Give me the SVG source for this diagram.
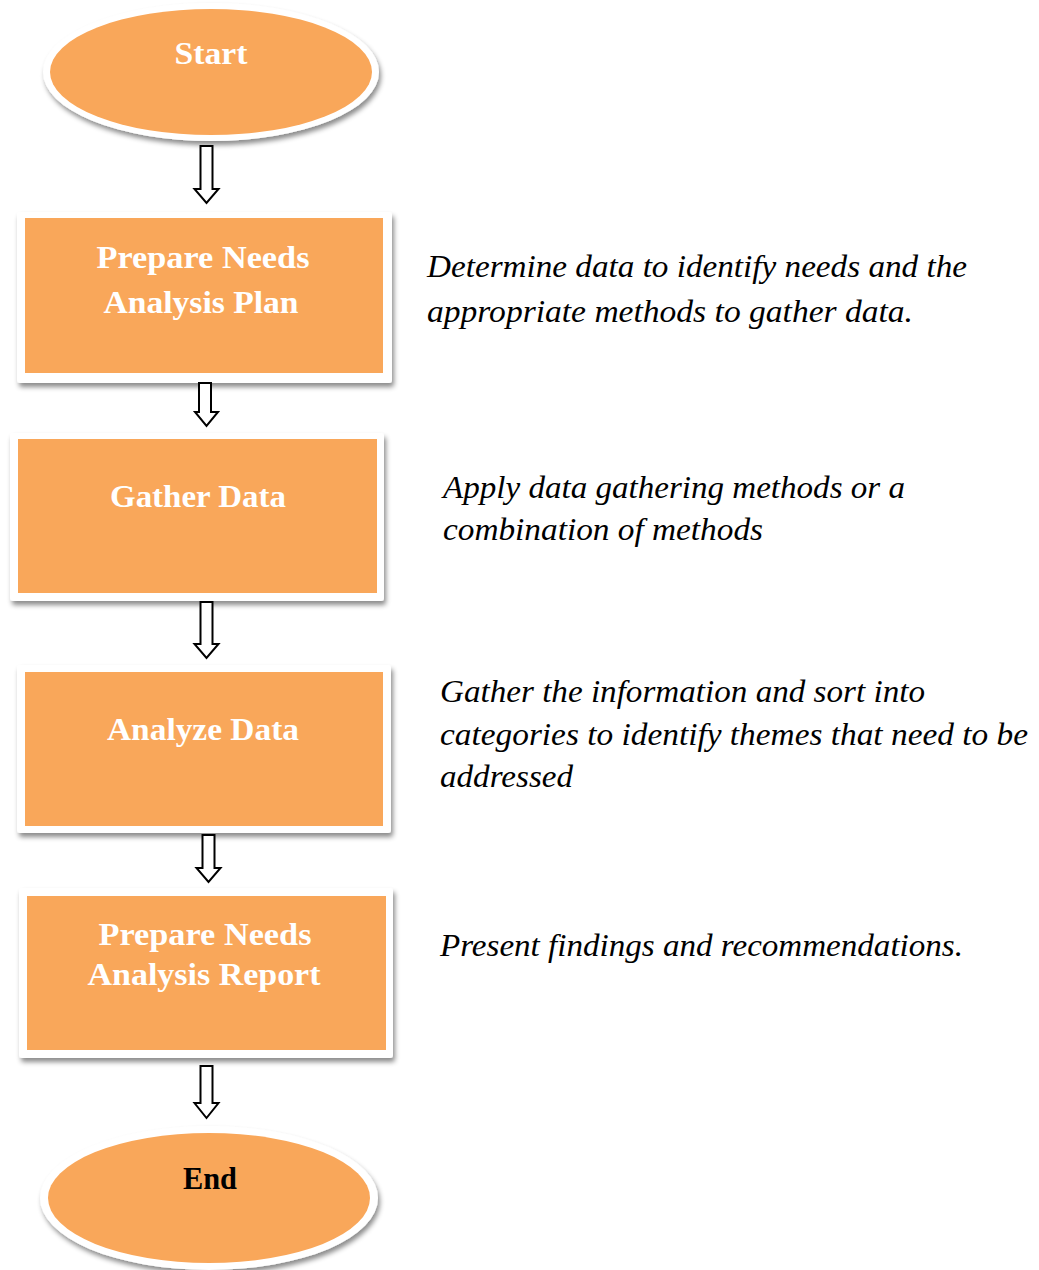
<svg xmlns="http://www.w3.org/2000/svg" width="1039" height="1270" viewBox="0 0 1039 1270">
  <defs>
    <filter id="shadow" x="-10%" y="-10%" width="125%" height="130%">
      <feDropShadow dx="2" dy="4" stdDeviation="2.5" flood-color="#000" flood-opacity="0.45"/>
    </filter>
  </defs>
  <style>
    .frame { fill: #ffffff; filter: url(#shadow); }
    .fill { fill: #F9A75A; }
    .label { font-family: "Liberation Serif", "DejaVu Serif", serif; font-weight: bold; font-size: 32px; fill: #ffffff; text-anchor: middle; }
    .label-dark { fill: #000000; }
    .desc { font-family: "Liberation Serif", "DejaVu Serif", serif; font-style: italic; font-size: 31px; fill: #000000; }
    .arrow { fill: #ffffff; stroke: #000000; stroke-width: 2; stroke-linejoin: miter; }
  </style>

  <!-- Start terminal -->
  <g id="start">
    <ellipse class="frame" cx="211" cy="72" rx="168" ry="69"/>
    <ellipse class="fill" cx="211" cy="72" rx="161" ry="63"/>
    <text class="label" x="211" y="64" textLength="73" lengthAdjust="spacingAndGlyphs">Start</text>
  </g>

  <!-- Step 1 -->
  <g id="plan">
    <rect class="frame" x="17" y="212" width="375" height="171" rx="3"/>
    <rect class="fill" x="25" y="218" width="358" height="155"/>
    <text class="label" x="203" y="268" textLength="213" lengthAdjust="spacingAndGlyphs">Prepare Needs</text>
    <text class="label" x="201" y="313" textLength="195" lengthAdjust="spacingAndGlyphs">Analysis Plan</text>
  </g>

  <!-- Step 2 -->
  <g id="gather">
    <rect class="frame" x="10" y="433" width="374" height="168" rx="3"/>
    <rect class="fill" x="18" y="439" width="359" height="154"/>
    <text class="label" x="198" y="507" textLength="176" lengthAdjust="spacingAndGlyphs">Gather Data</text>
  </g>

  <!-- Step 3 -->
  <g id="analyze">
    <rect class="frame" x="17" y="665" width="374" height="168" rx="3"/>
    <rect class="fill" x="25" y="672" width="358" height="154"/>
    <text class="label" x="203" y="740" textLength="192" lengthAdjust="spacingAndGlyphs">Analyze Data</text>
  </g>

  <!-- Step 4 -->
  <g id="report">
    <rect class="frame" x="19" y="888" width="374" height="170" rx="3"/>
    <rect class="fill" x="27" y="896" width="359" height="154"/>
    <text class="label" x="205" y="945" textLength="213" lengthAdjust="spacingAndGlyphs">Prepare Needs</text>
    <text class="label" x="204" y="985" textLength="233" lengthAdjust="spacingAndGlyphs">Analysis Report</text>
  </g>

  <!-- End terminal -->
  <g id="end">
    <ellipse class="frame" cx="209" cy="1198" rx="169" ry="72"/>
    <ellipse class="fill" cx="209" cy="1198" rx="161" ry="65"/>
    <text class="label label-dark" x="210" y="1189" textLength="54" lengthAdjust="spacingAndGlyphs">End</text>
  </g>

  <!-- Step descriptions -->
  <g id="notes">
    <text class="desc" x="427" y="277" textLength="540" lengthAdjust="spacingAndGlyphs">Determine data to identify needs and the</text>
    <text class="desc" x="427" y="322" textLength="486" lengthAdjust="spacingAndGlyphs">appropriate methods to gather data.</text>
    <text class="desc" x="443" y="498" textLength="462" lengthAdjust="spacingAndGlyphs">Apply data gathering methods or a</text>
    <text class="desc" x="443" y="540" textLength="320" lengthAdjust="spacingAndGlyphs">combination of methods</text>
    <text class="desc" x="440" y="702" textLength="485" lengthAdjust="spacingAndGlyphs">Gather the information and sort into</text>
    <text class="desc" x="440" y="745" textLength="588" lengthAdjust="spacingAndGlyphs">categories to identify themes that need to be</text>
    <text class="desc" x="440" y="787" textLength="133" lengthAdjust="spacingAndGlyphs">addressed</text>
    <text class="desc" x="440" y="956" textLength="523" lengthAdjust="spacingAndGlyphs">Present findings and recommendations.</text>
  </g>

  <!-- Hollow block arrows between steps -->
  <g id="connectors">
    <path class="arrow" d="M200.5,146 H212.5 V189 H218.5 L206.5,203 L194.5,189 H200.5 Z"/>
    <path class="arrow" d="M199,383 H211 V412 H218 L206.5,426 L195,412 H199 Z"/>
    <path class="arrow" d="M200.5,602 H212.5 V644 H218.5 L206.5,658 L194.5,644 H200.5 Z"/>
    <path class="arrow" d="M202.5,835 H214.5 V868 H220.5 L208.5,882 L196.5,868 H202.5 Z"/>
    <path class="arrow" d="M200.5,1066 H212.5 V1103 H218.5 L206.5,1118 L194.5,1103 H200.5 Z"/>
  </g>
</svg>
